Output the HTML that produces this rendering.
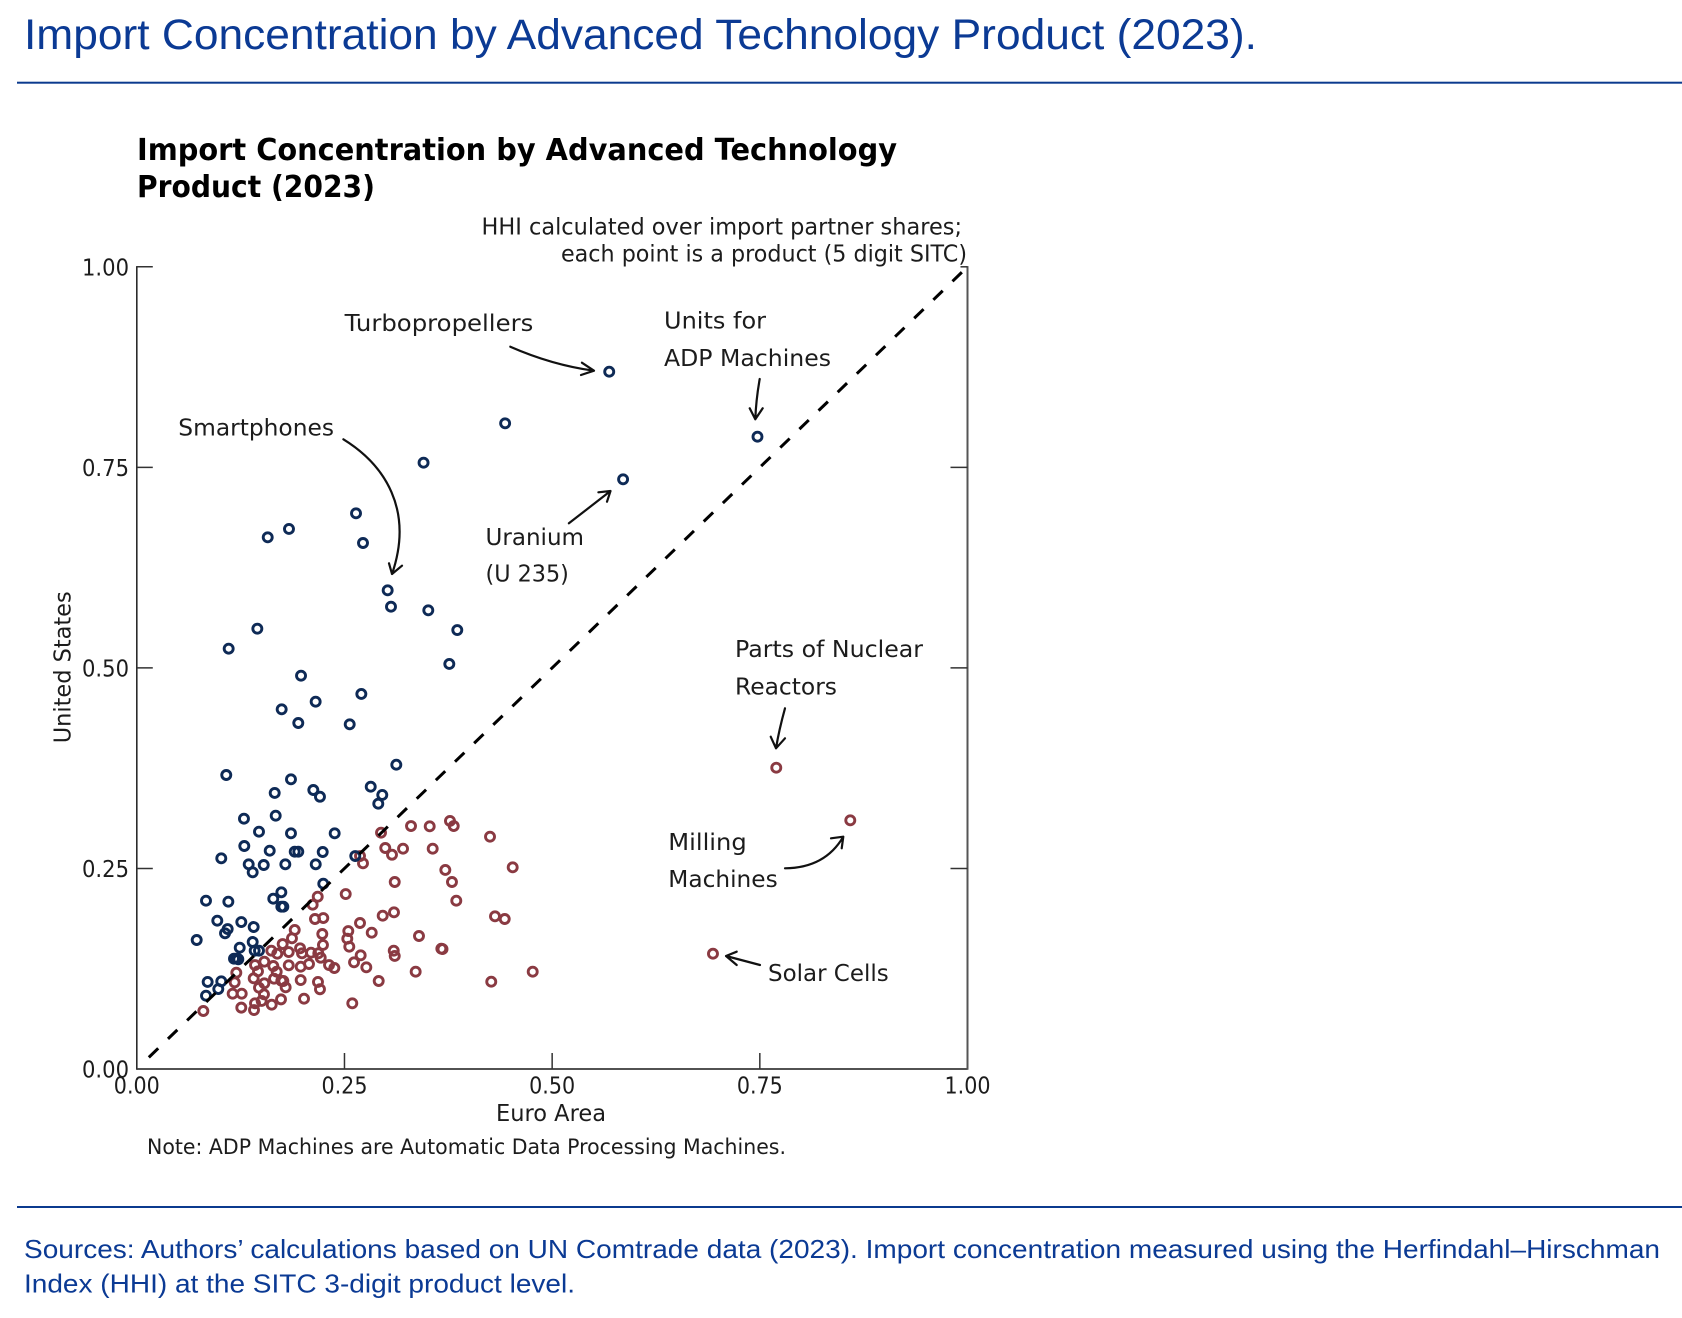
<!DOCTYPE html>
<html lang="en">
<head>
<meta charset="utf-8">
<title>Import Concentration by Advanced Technology Product (2023)</title>
<style>
  html, body { margin: 0; padding: 0; background: #fff; }
  svg { display: block; }
  .head { font-family: "Liberation Sans", Arial, sans-serif; fill: #0b3a94; }
  .chart-text { font-family: "DejaVu Sans", "Liberation Sans", sans-serif; fill: #1c1c1c; }
  .ann { font-size: 23.5px; }
  .arrow { fill: none; stroke: #111; stroke-width: 2.2; stroke-linecap: round; stroke-linejoin: round; }
</style>
</head>
<body>
<svg id="page" width="1682" height="1318" viewBox="0 0 1682 1318" xmlns="http://www.w3.org/2000/svg">
  <rect x="0" y="0" width="1682" height="1318" fill="#fff"/>

  <text class="head" x="24" y="49" font-size="43" textLength="1233" lengthAdjust="spacingAndGlyphs">Import Concentration by Advanced Technology Product (2023).</text>
  <rect x="17" y="81.7" width="1665" height="2" fill="#0b3a8e"/>

  <text class="chart-text" x="137" y="160" font-size="30" font-weight="700" textLength="760" lengthAdjust="spacingAndGlyphs" style="fill:#000">Import Concentration by Advanced Technology</text>
  <text class="chart-text" x="137" y="197" font-size="30" font-weight="700" textLength="238" lengthAdjust="spacingAndGlyphs" style="fill:#000">Product (2023)</text>

  <text class="chart-text" x="481.5" y="234.5" font-size="23.5" textLength="480.5" lengthAdjust="spacingAndGlyphs">HHI calculated over import partner shares;</text>
  <text class="chart-text" x="561" y="261.5" font-size="23.5" textLength="406" lengthAdjust="spacingAndGlyphs">each point is a product (5 digit SITC)</text>

  <g id="axes"></g>
  <g id="points"></g>
  <g id="parity"></g>

  <text class="chart-text" transform="translate(70.7 743.3) rotate(-90)" font-size="23.5" textLength="152" lengthAdjust="spacingAndGlyphs">United States</text>
  <text class="chart-text" x="496" y="1121" font-size="23.5" textLength="110" lengthAdjust="spacingAndGlyphs">Euro Area</text>
  <text class="chart-text" x="147" y="1154" font-size="21" textLength="639" lengthAdjust="spacingAndGlyphs">Note: ADP Machines are Automatic Data Processing Machines.</text>

  <g>
    <text class="chart-text ann" x="344.7" y="331" textLength="188.6" lengthAdjust="spacingAndGlyphs">Turbopropellers</text>
    <path class="arrow" d="M510.3,346.7 Q552,365 594,370.7 M581.9,362.7 L594,370.7 L581,375"/>

    <text class="chart-text ann" x="664" y="328.5" textLength="102" lengthAdjust="spacingAndGlyphs">Units for</text>
    <text class="chart-text ann" x="664" y="366" textLength="167" lengthAdjust="spacingAndGlyphs">ADP Machines</text>
    <path class="arrow" d="M759.7,379 Q756,400 755.3,419.3 M749.7,408.3 L755.3,419.3 L762.7,408.3"/>

    <text class="chart-text ann" x="178.3" y="435.7" textLength="155.7" lengthAdjust="spacingAndGlyphs">Smartphones</text>
    <path class="arrow" d="M343.4,439.3 C385,465 414,510 392,574 M389,563.3 L392,574 L402,565.7"/>

    <text class="chart-text ann" x="485.5" y="545" textLength="98.5" lengthAdjust="spacingAndGlyphs">Uranium</text>
    <text class="chart-text ann" x="485.5" y="581.7" textLength="83.4" lengthAdjust="spacingAndGlyphs">(U 235)</text>
    <path class="arrow" d="M568.9,523.3 L610.5,491 M598.4,492.3 L610.5,491 L607,501.7"/>

    <text class="chart-text ann" x="735" y="657" textLength="188" lengthAdjust="spacingAndGlyphs">Parts of Nuclear</text>
    <text class="chart-text ann" x="735" y="694.5" textLength="102" lengthAdjust="spacingAndGlyphs">Reactors</text>
    <path class="arrow" d="M785,708.3 Q779,730 776,748.3 M770.7,736.7 L776,748.3 L785,738.3"/>

    <text class="chart-text ann" x="668.3" y="850" textLength="78.4" lengthAdjust="spacingAndGlyphs">Milling</text>
    <text class="chart-text ann" x="668.3" y="887" textLength="109.4" lengthAdjust="spacingAndGlyphs">Machines</text>
    <path class="arrow" d="M785,868.3 Q825,868 843.3,836.7 M831,838.3 L843.3,836.7 L841.7,848.3"/>

    <text class="chart-text ann" x="768" y="981" textLength="120.7" lengthAdjust="spacingAndGlyphs">Solar Cells</text>
    <path class="arrow" d="M760,965 L726,956 M736.7,951.7 L726,956 L736.7,965"/>
  </g>

  <rect x="17" y="1206" width="1665" height="2" fill="#0b3a8e"/>
  <text class="head" x="24" y="1258" font-size="26" textLength="1636" lengthAdjust="spacingAndGlyphs">Sources: Authors’ calculations based on UN Comtrade data (2023). Import concentration measured using the Herfindahl–Hirschman</text>
  <text class="head" x="24" y="1292.7" font-size="26" textLength="551" lengthAdjust="spacingAndGlyphs">Index (HHI) at the SITC 3-digit product level.</text>
</svg>

<script>
const xTickLabels = ["0.00", "0.25", "0.50", "0.75", "1.00"];
const yTickLabels = ["0.00", "0.25", "0.50", "0.75", "1.00"];
const parityLine = [0.0145, 1];

const usConcentratedEuro = [
  .1576,.1832,.2639,.2723,.3020,.3060,.3509,.3858,.3762,.1451,.1106,.1977,.2703,.2153,.1744,.1944,.2563,.3124,
  .1077,.1856,.1660,.2125,.2205,.2816,.2955,.2907,.1290,.1672,.1471,.1856,.2382,.1294,.1600,.1901,.1944,.2238,
  .1017,.2630,.1347,.1528,.1395,.1788,.2154,.2245,.1740,.1643,.1740,.1764,.0833,.1102,.0969,.1258,.1094,.1062,
  .1407,.0721,.1395,.1239,.1419,.1471,.1170,.1222,.1198,.0853,.1017,.0981,.0833,.5687,.4434,.7472,.5854,.3452
];
const usConcentratedUS = [
  .6628,.6732,.6927,.6557,.5967,.5763,.5718,.5472,.5049,.5489,.5240,.4903,.4675,.4579,.4484,.4313,.4297,.3793,
  .3665,.3611,.3441,.3478,.3394,.3519,.3416,.3307,.3120,.3158,.2958,.2938,.2938,.2780,.2721,.2709,.2709,.2705,
  .2626,.2655,.2552,.2543,.2452,.2552,.2552,.2310,.2203,.2123,.2023,.2023,.2098,.2086,.1849,.1832,.1745,.1692,
  .1770,.1608,.1583,.1512,.1475,.1475,.1375,.1368,.1375,.1085,.1093,.0997,.0914,.8692,.8049,.7882,.7351,.7558
];

const euroConcentratedEuro = [
  .2940,.3301,.3526,.3770,.3815,.4252,.2991,.3072,.3205,.3562,.3714,.4525,.2687,.2723,.3105,.3794,.3846,.2515,
  .2178,.2117,.3096,.2960,.2245,.2145,.4312,.4429,.2687,.2828,.2546,.2534,.2558,.2233,.1901,.1868,.2241,.3397,
  .3666,.3680,.3093,.3105,.2695,.2615,.2763,.3357,.4766,.2912,.4267,.2594,.1965,.1989,.1829,.2097,.2185,.2214,
  .1829,.1973,.2073,.2314,.2378,.1973,.2181,.2205,.2013,.1756,.0801,.1198,.1178,.1154,.1263,.1258,.1411,.1423,
  .1503,.1624,.1736,.1531,.1471,.1535,.1407,.1423,.1459,.1535,.1643,.1684,.1652,.1740,.1764,.1792,.1619,.1691,
  .7698,.8589,.6936
];
const euroConcentratedUS = [
  .2946,.3029,.3025,.3092,.3029,.2896,.2755,.2671,.2746,.2746,.2481,.2514,.2655,.2564,.2331,.2331,.2098,.2181,
  .2148,.2048,.1953,.1911,.1882,.1870,.1903,.1870,.1820,.1699,.1720,.1624,.1525,.1683,.1733,.1629,.1546,.1658,
  .1500,.1495,.1475,.1409,.1417,.1330,.1268,.1213,.1213,.1097,.1088,.0819,.1505,.1442,.1458,.1450,.1442,.1387,
  .1293,.1275,.1309,.1296,.1259,.1109,.1085,.0994,.0876,.1558,.0723,.1200,.1080,.0939,.0939,.0765,.0735,.0819,
  .0848,.0802,.0868,.0931,.1014,.1068,.1130,.1296,.1218,.1338,.1284,.1213,.1126,.1101,.1097,.1018,.1475,.1437,
  .3756,.3100,.1437
];

const NS = "http://www.w3.org/2000/svg";
const plotLeft = 136.8, plotRight = 967.5, plotBottom = 1069, plotTop = 266.8;
const xScale = v => plotLeft + v * (plotRight - plotLeft);
const yScale = v => plotBottom - v * (plotBottom - plotTop);

function make(tag, attrs, parent) {
  const el = document.createElementNS(NS, tag);
  for (const k in attrs) el.setAttribute(k, attrs[k]);
  parent.appendChild(el);
  return el;
}

const axes = document.getElementById("axes");
const pointsGroup = document.getElementById("points");
const parityGroup = document.getElementById("parity");

const leftAxis = make("line", {x1: plotLeft, x2: plotLeft, y1: plotTop - 0.7, y2: plotBottom + 0.7, stroke: "#2b2b2b", "stroke-width": 1.6}, axes);


const bottomAxis = make("line", {x1: plotLeft, x2: plotRight, y1: plotBottom, y2: plotBottom, stroke: "#3a3a3a", "stroke-width": 1.8}, axes);


const rightAxis = make("line", {x1: plotRight, x2: plotRight, y1: plotTop - 0.7, y2: plotBottom + 0.7, stroke: "#555", "stroke-width": 2}, axes);



xTickLabels.forEach(label => {
  const v = parseFloat(label);
  const x = xScale(v);
  if (v > 0 && v < 1) {
    const t = make("line", {x1: x, x2: x, y1: plotBottom, y2: plotBottom - 16, stroke: "#333", "stroke-width": 1.5}, axes);
    
    
  }
  const txt = make("text", {x: x - 23, y: 1093.3, "font-size": 23.5, textLength: 46, lengthAdjust: "spacingAndGlyphs", class: "chart-text"}, axes);
  txt.textContent = label;
  
  
});

yTickLabels.forEach(label => {
  const v = parseFloat(label);
  const y = yScale(v);
  if (v > 0) {
    const t = make("line", {x1: plotLeft, x2: plotLeft + 16, y1: y, y2: y, stroke: "#333", "stroke-width": 1.5}, axes);
    
    
    const r = make("line", {x1: v === 1 ? plotRight - 7 : plotRight - 17, x2: plotRight, y1: y, y2: y, stroke: "#333", "stroke-width": 1.5}, axes);
    
    
  }
  const txt = make("text", {x: 82, y: y + 8.6, "font-size": 23.5, textLength: 47, lengthAdjust: "spacingAndGlyphs", class: "chart-text"}, axes);
  txt.textContent = label;
  
  
});

euroConcentratedEuro.forEach((v, i) => {
  const c = make("circle", {cx: xScale(v), cy: yScale(euroConcentratedUS[i]), r: 4.5, fill: "none", stroke: "#8a3a42", "stroke-width": 2.9}, pointsGroup);
  
  
});

usConcentratedEuro.forEach((v, i) => {
  const c = make("circle", {cx: xScale(v), cy: yScale(usConcentratedUS[i]), r: 4.5, fill: "none", stroke: "#0e2a56", "stroke-width": 2.9}, pointsGroup);
  
  
});

const parity = make("line", {
  x1: xScale(parityLine[0]), y1: yScale(parityLine[0]),
  x2: xScale(parityLine[1]), y2: yScale(parityLine[1]),
  stroke: "#000", "stroke-width": 3, "stroke-dasharray": "13 13.6"
}, parityGroup);


</script>
</body>
</html>
